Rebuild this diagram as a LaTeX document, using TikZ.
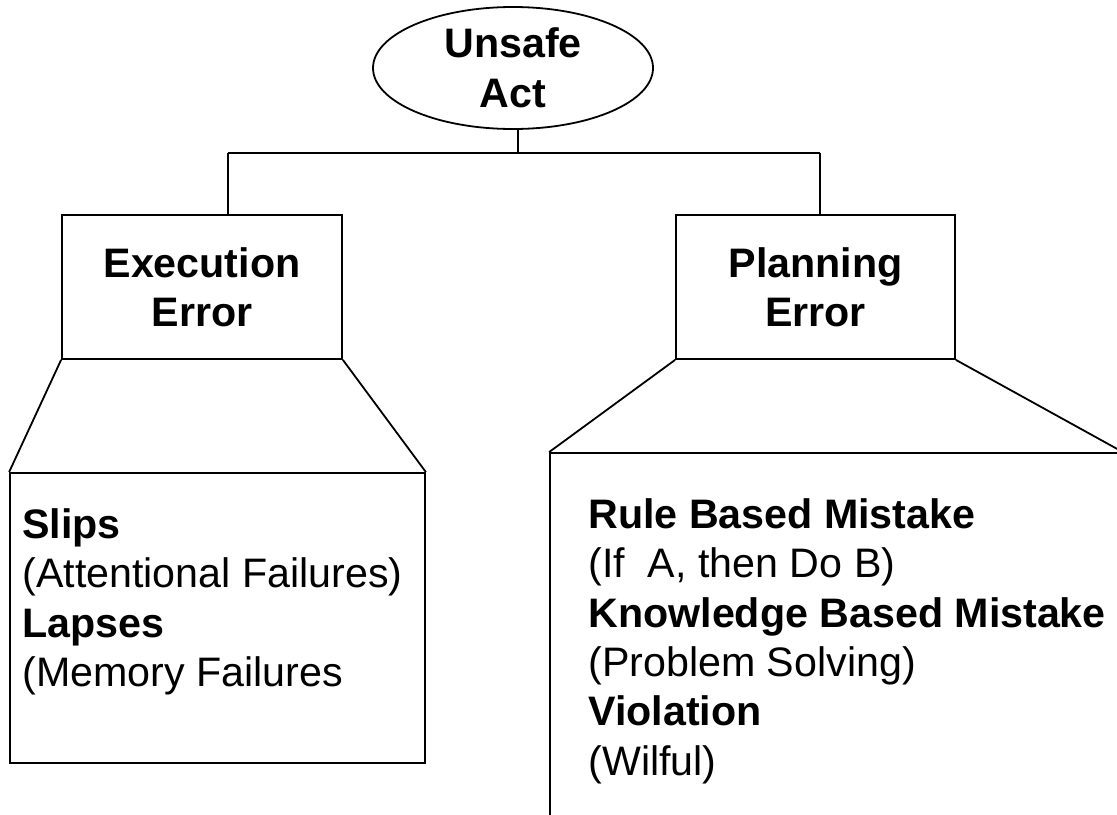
\documentclass[tikz,border=0pt]{standalone}
\usepackage{fontspec}
\setmainfont{Liberation Sans}
\usepackage{tikz}
\usetikzlibrary{shapes.geometric,calc}
\tikzset{
  actnode/.style={draw, ellipse, line width=0.9pt, inner sep=0pt, minimum width=140pt, minimum height=61pt, align=center, font=\fontsize{20.6}{25}\selectfont\bfseries},
  errbox/.style={draw, rectangle, line width=0.9pt, inner sep=0pt, minimum width=140pt, minimum height=72pt, align=center, font=\fontsize{20.6}{24.5}\selectfont\bfseries},
  listbox/.style={draw, rectangle, line width=0.9pt, inner sep=0pt},
  listtext/.style={anchor=north west, inner sep=0pt, align=left, font=\fontsize{20.6}{24.7}\selectfont},
  conn/.style={line width=0.9pt}
}
\begin{document}
\begin{tikzpicture}[x=0.5pt,y=-0.5pt]
\useasboundingbox (0,0) rectangle (1117,814);
\clip (0,0) rectangle (1117,814);
\fill[white] (0,0) rectangle (1117,814);

\node[actnode] (act) at (513,68) {Unsafe\\Act};
\node[errbox] (exec) at (202,287) {Execution\\Error};
\node[errbox, minimum width=139.5pt] (plan) at (815.5,287) {Planning\\Error};

\node[listbox, minimum width=207.5pt, minimum height=145pt] (slipbox) at (217.5,618) {};
\node[listbox, minimum width=286pt, minimum height=188.5pt] (mistbox) at (836,641.5) {};

\node[listtext] (sliptext) at (22,508) {\textbf{Slips}\\(Attentional Failures)\\\textbf{Lapses}\\(Memory Failures};
\node[listtext] (misttext) at (588,498) {\textbf{Rule Based Mistake}\\(If\ \ A, then Do B)\\\textbf{Knowledge Based Mistake}\\(Problem Solving)\\\textbf{Violation}\\(Wilful)};

\coordinate (junc) at (518,153);
\coordinate (barl) at (228,153);
\coordinate (barr) at (820,153);

\draw[conn] (act.south -| junc) -- (junc);
\draw[conn] (barl) -- (barr);
\draw[conn] (barl) -- (barl |- exec.north);
\draw[conn] (barr) -- (barr |- plan.north);

\draw[conn] (exec.south west) -- (slipbox.north west);
\draw[conn] (exec.south east) -- (slipbox.north east);
\draw[conn] (plan.south west) -- (mistbox.north west);
\draw[conn] (plan.south east) -- (mistbox.north east);
\end{tikzpicture}
\end{document}
